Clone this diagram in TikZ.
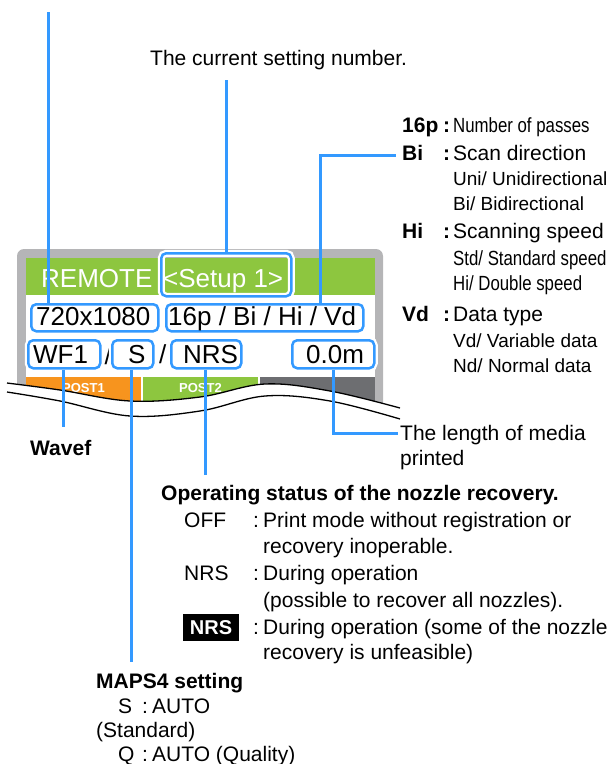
\documentclass[tikz,border=0pt]{standalone}
\usepackage{fontspec}
\setmainfont{Liberation Sans}
\newfontfamily\narrowfont{Liberation Sans}[FakeStretch=0.82]
\definecolor{callblue}{RGB}{51,153,255}
\definecolor{lcdgreen}{RGB}{141,198,63}
\definecolor{framegray}{RGB}{181,181,183}
\definecolor{postorange}{RGB}{247,148,30}
\definecolor{postdark}{RGB}{109,110,113}
\begin{document}
\begin{tikzpicture}[x=1pt,y=-1pt,
  lbl/.style={anchor=base west, inner sep=0pt, font=\fontsize{21}{25}\selectfont},
  sub/.style={anchor=base west, inner sep=0pt, font=\fontsize{19}{23}\selectfont},
  nar/.style={anchor=base west, inner sep=0pt, font=\narrowfont\fontsize{20.5}{24}\selectfont},
  bl/.style={anchor=base west, inner sep=0pt, font=\bfseries\fontsize{21}{25}\selectfont},
  lcd/.style={anchor=base west, inner sep=0pt, font=\fontsize{26}{30}\selectfont},
  post/.style={anchor=base, inner sep=0pt, text=white, font=\bfseries\fontsize{13}{15}\selectfont},
  callout/.style={draw=callblue, line width=2.5pt, rounded corners=5pt, anchor=north west,
     inner sep=0pt, preaction={draw=white, line width=7pt}},
  leader/.style={draw=callblue, line width=3pt},
  wave/.style={draw=black, line width=1.3pt}
]
\useasboundingbox (0,0) rectangle (612,764);

% LCD frame
\fill[framegray, rounded corners=7pt] (17,249) rectangle (383,430);
\fill[white] (26,258) rectangle (375,430);
\fill[lcdgreen] (26,258) rectangle (375,295);
\fill[postorange] (26,377) rectangle (141,430);
\fill[lcdgreen] (143,377) rectangle (258,430);
\fill[postdark] (260,377) rectangle (375,430);
\node[post] (p1) at (83.5,392) {POST1};
\node[post] (p2) at (200.5,392) {POST2};
\node[lcd, text=white] (remote) at (41,287) {REMOTE};
\node[lcd] (sl1) at (104.5,364) {/};

% callout boxes
\node[callout, minimum width=130pt, minimum height=43pt] (bsetup) at (160,252) {};
\node[callout, minimum width=127pt, minimum height=27pt] (bres) at (30,303) {};
\node[callout, minimum width=197pt, minimum height=27pt] (bset) at (165,303) {};
\node[callout, minimum width=72pt, minimum height=28pt] (bwf) at (27,339) {};
\node[callout, minimum width=41pt, minimum height=28pt] (bs) at (111,339) {};
\node[callout, minimum width=70pt, minimum height=28pt] (bnrs) at (170,339) {};
\node[callout, minimum width=82pt, minimum height=28pt] (blen) at (291,339) {};

% LCD texts
\node[lcd, text=white] (tsetup) at (163,287) {<Setup 1>};
\node[lcd] (t720) at (36,325) {720x1080};
\node[lcd] (t16p) at (168,325) {16p / Bi / Hi / Vd};
\node[lcd] (twf) at (33,363) {WF1};
\node[lcd] (ts) at (128,363) {S};
\node[lcd] (sl2) at (159,363) {/};
\node[lcd] (tnrs) at (183,363) {NRS};
\node[lcd] (tlen) at (306,363) {0.0m};

% wave cut
\fill[white] plot[smooth, tension=0.6] coordinates {(7,383) (60,390) (130,401) (200,397) (265,384) (330,391) (400,408)}
   -- (410,445) -- (0,445) -- (0,383) -- cycle;
\draw[wave] plot[smooth, tension=0.6] coordinates {(7,383) (60,390) (130,401) (200,397) (265,384) (330,391) (400,408)};
\draw[wave] plot[smooth, tension=0.6] coordinates {(7,392) (60,401) (130,416) (200,411) (265,396) (330,401) (400,419)};

% leader end points
\coordinate (c1) at (48,12);
\coordinate (c2) at (226,80);
\coordinate (c3x) at (320,0);
\coordinate (cbi) at (396,155);
\coordinate (cwf) at (63,427);
\coordinate (cs) at (131,662);
\coordinate (cnrs) at (205,475);
\coordinate (clen) at (398,433);

\draw[leader] (c1) -- (c1 |- bres.north);
\draw[leader] (c2) -- (c2 |- bsetup.north);
\draw[leader] (c3x |- bset.north) |- (cbi);
\draw[leader] (bwf.south -| cwf) -- (cwf);
\draw[leader] (bs.south -| cs) -- (cs);
\draw[leader] (bnrs.south -| cnrs) -- (cnrs);
\draw[leader] (blen.south) |- (clen);

% top label
\node[lbl] (lcur) at (150,65) {The current setting number.};

% right panel
\node[bl] (k16) at (402,132) {16p};
\node[bl] (c16) at (443,132) {:};
\node[nar] (v16) at (453,132) {Number of passes};
\node[bl] (kbi) at (402,160) {Bi};
\node[bl] (cbic) at (443,160) {:};
\node[lbl] (vbi) at (453,160) {Scan direction};
\node[sub] (vbi1) at (453,185) {Uni/ Unidirectional};
\node[sub] (vbi2) at (453,210) {Bi/ Bidirectional};
\node[bl] (khi) at (402,238) {Hi};
\node[bl] (chi) at (443,238) {:};
\node[lbl] (vhi) at (453,238) {Scanning speed};
\node[nar] (vhi1) at (453,265) {Std/ Standard speed};
\node[nar] (vhi2) at (453,290) {Hi/ Double speed};
\node[bl] (kvd) at (402,321) {Vd};
\node[bl] (cvd) at (443,321) {:};
\node[lbl] (vvd) at (453,321) {Data type};
\node[sub] (vvd1) at (453,347) {Vd/ Variable data};
\node[sub] (vvd2) at (453,372) {Nd/ Normal data};

\node[lbl] (len1) at (400,440) {The length of media};
\node[lbl] (len2) at (400,465) {printed};

\node[bl] (wavef) at (30,455) {Wavef};

% nozzle recovery
\node[bl] (ops) at (161,500) {Operating status of the nozzle recovery.};
\node[lbl] (off) at (184,527) {OFF};
\node[lbl] (offc) at (253,527) {:};
\node[lbl] (off1) at (263,527) {Print mode without registration or};
\node[lbl] (off2) at (263,553) {recovery inoperable.};
\node[lbl] (nrs) at (184,580) {NRS};
\node[lbl] (nrsc) at (253,580) {:};
\node[lbl] (nrs1) at (263,580) {During operation};
\node[lbl] (nrs2) at (263,607) {(possible to recover all nozzles).};
\fill[black] (183,614) rectangle (239,641);
\node[anchor=base, inner sep=0pt, text=white, font=\bfseries\fontsize{20}{24}\selectfont] (nrsb) at (211,634) {NRS};
\node[lbl] (nrsbc) at (253,634) {:};
\node[lbl] (nrsb1) at (263,634) {During operation (some of the nozzle};
\node[lbl] (nrsb2) at (263,659) {recovery is unfeasible)};

% MAPS4
\node[bl] (maps) at (96,688) {MAPS4 setting};
\node[lbl] (ms) at (118,713) {S};
\node[lbl] (msc) at (142,713) {:};
\node[lbl] (ms1) at (152,713) {AUTO};
\node[lbl] (ms2) at (96,737) {(Standard)};
\node[lbl] (mq) at (118,761) {Q};
\node[lbl] (mqc) at (142,761) {:};
\node[lbl] (mq1) at (152,761) {AUTO (Quality)};
\end{tikzpicture}
\end{document}
